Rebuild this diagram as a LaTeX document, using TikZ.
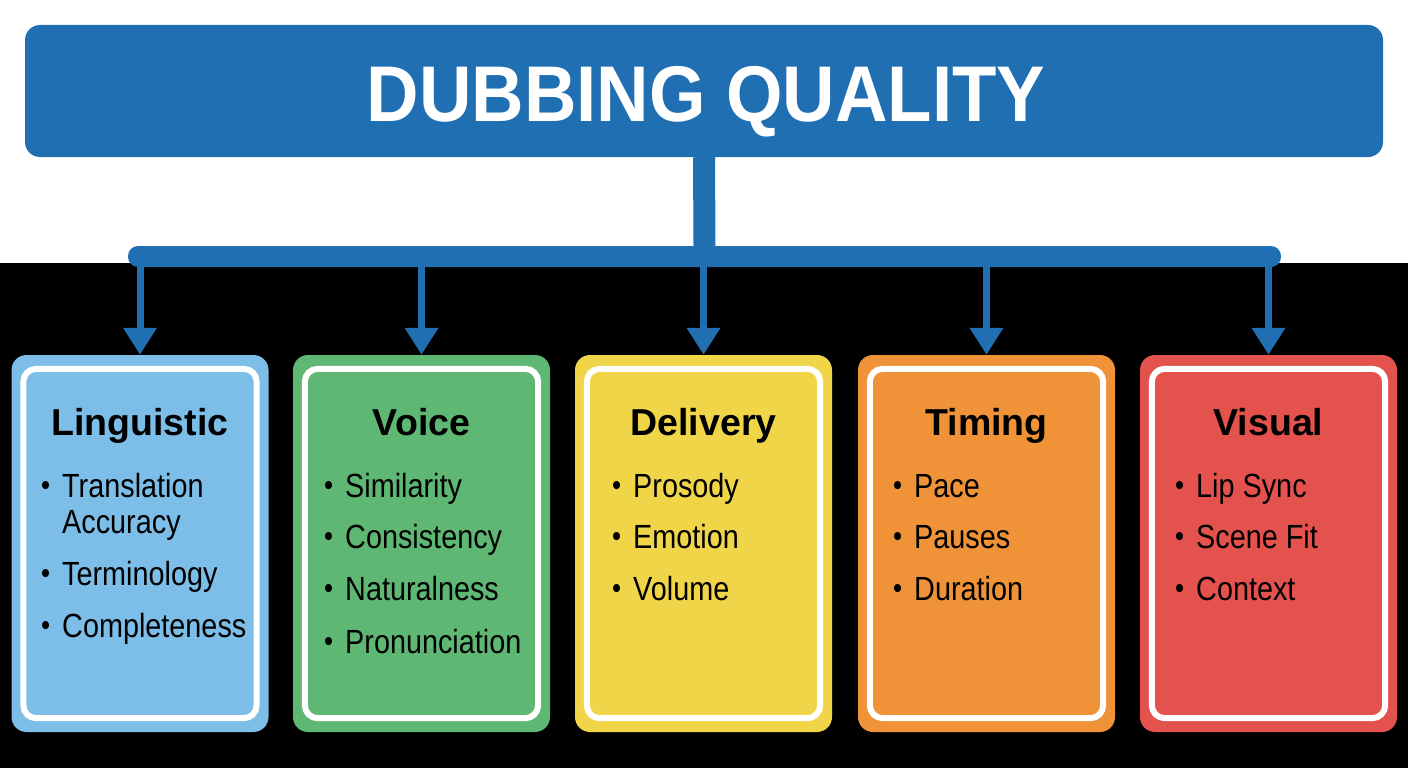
\documentclass[tikz,border=0pt]{standalone}
\usepackage{fontspec}
\setmainfont{Liberation Sans}
\newfontfamily\titlefont[FakeStretch=0.92]{Liberation Sans}
\newfontfamily\itemfont[FakeStretch=0.86]{Liberation Sans}
\usetikzlibrary{arrows.meta, positioning}
\definecolor{dqblue}{RGB}{31,111,178}
\definecolor{catblue}{RGB}{124,190,232}
\definecolor{catgreen}{RGB}{94,184,116}
\definecolor{catyellow}{RGB}{241,213,72}
\definecolor{catorange}{RGB}{240,146,56}
\definecolor{catred}{RGB}{228,82,77}
\newcommand{\catbul}{\makebox[21pt][l]{\raisebox{1.5pt}{\fontsize{30}{30}\selectfont •}}}

\begin{document}
\begin{tikzpicture}[x=1pt, y=-1pt,
    hdr/.style={fill=dqblue, rounded corners=15pt, inner sep=0pt,
                minimum width=1358pt, minimum height=132pt},
    bar/.style={fill=dqblue, rounded corners=10pt, inner sep=0pt,
                minimum width=1153pt, minimum height=21pt},
    cat/.style={rounded corners=15pt, inner sep=0pt,
                minimum width=257pt, minimum height=377pt},
    rim/.style={draw=white, line width=6pt, rounded corners=13pt},
    head/.style={anchor=base, inner sep=0pt, font=\fontsize{37.5}{40}\selectfont\bfseries},
    itm/.style={anchor=base west, inner sep=0pt, font=\itemfont\fontsize{33.5}{36}\selectfont},
    flow/.style={-{Triangle[width=32pt, length=27pt]}, line width=7pt, draw=dqblue},
]
\useasboundingbox (0,0) rectangle (1408,768);
\fill[white] (0,0) rectangle (1408,263);
\fill[black] (0,263) rectangle (1408,768);

% header and branching bar
\node[hdr] (hdr) at (704,91) {};
\node[anchor=base, text=white, inner sep=0pt, font=\titlefont\fontsize{79}{80}\selectfont\bfseries]
   (title) at (706,121) {DUBBING QUALITY};
\node[bar] (bar) at (704.5,256.5) {};
\draw[dqblue, line width=22pt] (hdr.south) -- (bar.north);

% category cards
\node[cat, fill=catblue] (ling) at (140,543.5) {};
\node[cat, fill=catgreen] (voice) at (421.5,543.5) {};
\node[cat, fill=catyellow] (deliv) at (703.5,543.5) {};
\node[cat, fill=catorange] (timing) at (986.5,543.5) {};
\node[cat, fill=catred] (visual) at (1268.5,543.5) {};
\draw[rim] ([xshift=12pt, yshift=-14pt]ling.north west) rectangle ([xshift=-12pt, yshift=14pt]ling.south east);
\draw[rim] ([xshift=12pt, yshift=-14pt]voice.north west) rectangle ([xshift=-12pt, yshift=14pt]voice.south east);
\draw[rim] ([xshift=12pt, yshift=-14pt]deliv.north west) rectangle ([xshift=-12pt, yshift=14pt]deliv.south east);
\draw[rim] ([xshift=12pt, yshift=-14pt]timing.north west) rectangle ([xshift=-12pt, yshift=14pt]timing.south east);
\draw[rim] ([xshift=12pt, yshift=-14pt]visual.north west) rectangle ([xshift=-12pt, yshift=14pt]visual.south east);

\draw[flow] (bar.south -| ling.north) -- (ling.north);
\draw[flow] (bar.south -| voice.north) -- (voice.north);
\draw[flow] (bar.south -| deliv.north) -- (deliv.north);
\draw[flow] (bar.south -| timing.north) -- (timing.north);
\draw[flow] (bar.south -| visual.north) -- (visual.north);

% headings
\node[head] (lingh) at (140,435) {Linguistic};
\node[head] (voiceh) at (421.5,435) {Voice};
\node[head] (delivh) at (703.5,435) {Delivery};
\node[head] (timingh) at (986.5,435) {Timing};
\node[head] (visualh) at (1268.5,435) {Visual};

% items
\node[itm] (ling1) at (41,497) {\catbul Translation};
\node[itm] (ling1b) at (62,533) {Accuracy};
\node[itm] (ling2) at (41,585) {\catbul Terminology};
\node[itm] (ling3) at (41,637) {\catbul Completeness};
\node[itm] (voice1) at (324,497) {\catbul Similarity};
\node[itm] (voice2) at (324,548) {\catbul Consistency};
\node[itm] (voice3) at (324,600) {\catbul Naturalness};
\node[itm] (voice4) at (324,653) {\catbul Pronunciation};
\node[itm] (deliv1) at (612,497) {\catbul Prosody};
\node[itm] (deliv2) at (612,548) {\catbul Emotion};
\node[itm] (deliv3) at (612,600) {\catbul Volume};
\node[itm] (timing1) at (893,497) {\catbul Pace};
\node[itm] (timing2) at (893,548) {\catbul Pauses};
\node[itm] (timing3) at (893,600) {\catbul Duration};
\node[itm] (visual1) at (1175,497) {\catbul Lip Sync};
\node[itm] (visual2) at (1175,548) {\catbul Scene Fit};
\node[itm] (visual3) at (1175,600) {\catbul Context};
\end{tikzpicture}
\end{document}
